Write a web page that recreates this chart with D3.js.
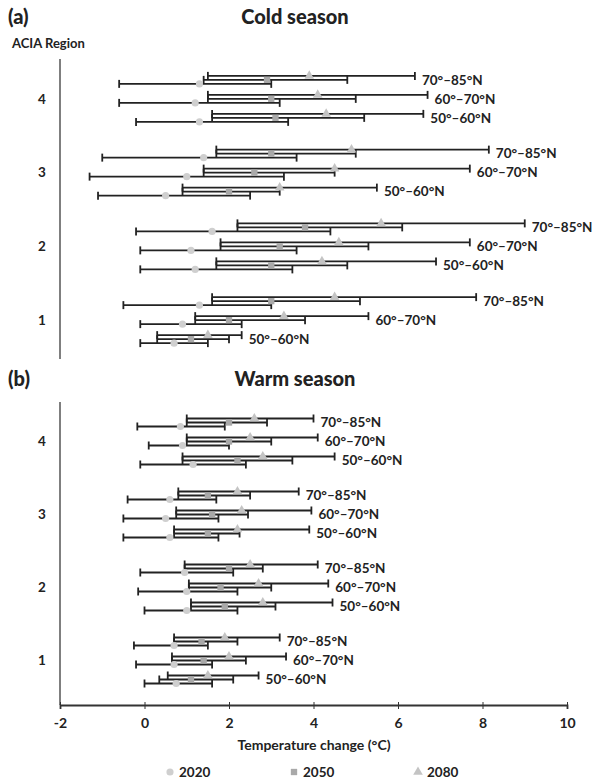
<!DOCTYPE html>
<html lang="en">
<head>
<meta charset="UTF-8">
<title>ACIA projected temperature change</title>
<style>
  body { margin: 0; background: #fff; }
  text { font-family: Lato, "Open Sans", sans-serif; fill: #222; }
</style>
</head>
<body>
<div id="chart"></div>
<script src="https://d3js.org/d3.v7.min.js"></script>
<script>
// categories
var regions = ["4", "3", "2", "1"];
var bands = ["70°–85°N", "60°–70°N", "50°–60°N"];
var years = ["2020", "2050", "2080"];
var xTicks = [-2, 0, 2, 4, 6, 8, 10];

// [min, mean, max] per row, rows ordered region 4 (70-85, 60-70, 50-60) ... region 1
var cold2020 = [[-0.6, 1.3, 3.0], [-0.6, 1.2, 3.2], [-0.2, 1.3, 3.4],
                [-1.0, 1.4, 3.6], [-1.3, 1.0, 3.3], [-1.1, 0.5, 2.5],
                [-0.2, 1.6, 4.4], [-0.1, 1.1, 3.6], [-0.1, 1.2, 3.5],
                [-0.5, 1.3, 3.0], [-0.1, 0.9, 2.3], [-0.1, 0.7, 1.5]];
var cold2050 = [[1.4, 2.9, 4.8], [1.5, 3.0, 5.0], [1.6, 3.1, 5.2],
                [1.7, 3.0, 5.0], [1.4, 2.6, 4.5], [0.9, 2.0, 3.2],
                [2.2, 3.8, 6.1], [1.8, 3.2, 5.3], [1.7, 3.0, 4.8],
                [1.6, 3.0, 5.1], [1.2, 2.0, 3.8], [0.3, 1.1, 2.0]];
var cold2080 = [[1.5, 3.9, 6.4], [1.5, 4.1, 6.7], [1.6, 4.3, 6.6],
                [1.7, 4.9, 8.15], [1.4, 4.5, 7.7], [0.9, 3.2, 5.5],
                [2.2, 5.6, 9.0], [1.8, 4.6, 7.7], [1.7, 4.2, 6.9],
                [1.6, 4.5, 7.85], [1.2, 3.3, 5.3], [0.3, 1.5, 2.3]];

var warm2020 = [[-0.17, 0.85, 1.9], [0.1, 0.9, 2.0], [-0.1, 1.15, 2.4],
                [-0.4, 0.6, 1.7], [-0.5, 0.5, 1.75], [-0.5, 0.6, 1.75],
                [-0.1, 0.95, 2.1], [-0.15, 1.0, 2.2], [0.0, 1.0, 2.2],
                [-0.25, 0.7, 1.5], [-0.2, 0.7, 1.6], [0.0, 0.75, 1.6]];
var warm2050 = [[1.0, 2.0, 2.9], [1.0, 2.0, 3.0], [0.9, 2.2, 3.5],
                [0.8, 1.5, 2.5], [0.75, 1.6, 2.45], [0.7, 1.5, 2.25],
                [0.95, 2.0, 2.8], [1.05, 1.8, 3.0], [1.1, 1.9, 3.1],
                [0.7, 1.35, 2.2], [0.65, 1.4, 2.4], [0.35, 1.1, 2.1]];
var warm2080 = [[1.0, 2.6, 4.0], [1.0, 2.5, 4.1], [0.9, 2.8, 4.5],
                [0.8, 2.2, 3.65], [0.75, 2.3, 3.95], [0.7, 2.2, 3.9],
                [0.95, 2.5, 4.1], [1.05, 2.7, 4.35], [1.1, 2.8, 4.45],
                [0.7, 1.9, 3.2], [0.65, 2.0, 3.35], [0.55, 1.5, 2.7]];

var W = 605, H = 780;
var svg = d3.select("#chart").append("svg").attr("width", W).attr("height", H);

var x = d3.scaleLinear().domain([-2, 10]).range([60, 567]);
var bandOff = d3.scalePoint().domain(bands).range([-19, 19]);
var yearOff = d3.scalePoint().domain(["2080", "2050", "2020"]).range([-4, 4]);

var markFill = {"2020": "#cfcfcf", "2050": "#a9a9a9", "2080": "#c4c4c4"};
var markShape = {"2020": d3.symbolCircle, "2050": d3.symbolSquare, "2080": d3.symbolTriangle};

function rowsOf(s2020, s2050, s2080) {
  var rows = [];
  regions.forEach(function (r, ri) {
    bands.forEach(function (b, bi) {
      var i = ri * 3 + bi;
      rows.push({region: r, band: b, vals: {"2020": s2020[i], "2050": s2050[i], "2080": s2080[i]}});
    });
  });
  return rows;
}

function panel(rows, top, bottom, letter, title, titleY, withAxis) {
  var g = svg.append("g");
  var y = d3.scaleBand().domain(regions).range([top, bottom]);

  g.append("text").attr("x", 8).attr("y", titleY).attr("font-size", 20)
    .attr("font-weight", 900).text(letter);
  g.append("text").attr("x", 295).attr("y", titleY).attr("text-anchor", "middle")
    .attr("font-size", 20).attr("font-weight", 900).text(title);

  // y axis line
  g.append("line").attr("x1", 60).attr("x2", 60)
    .attr("y1", top - 3).attr("y2", withAxis ? bottom + 8 : bottom + 2)
    .attr("stroke", "#555").attr("stroke-width", 1.5);

  g.selectAll(".rlab").data(regions).enter().append("text")
    .attr("x", 42).attr("y", function (d) { return y(d) + y.bandwidth() / 2; })
    .attr("dy", "0.35em").attr("text-anchor", "middle")
    .attr("font-size", 13.5).attr("font-weight", 700).text(function (d) { return d; });

  var bars = [];
  rows.forEach(function (row) {
    var cy = y(row.region) + y.bandwidth() / 2 + bandOff(row.band);
    years.forEach(function (yr) {
      bars.push({yr: yr, v: row.vals[yr], cy: cy + yearOff(yr)});
    });
    row.cy = cy;
  });

  var bg = g.append("g").attr("stroke", "#222").attr("stroke-width", 1.8);
  bg.selectAll(".whisker").data(bars).enter().append("line")
    .attr("x1", function (d) { return x(d.v[0]); })
    .attr("x2", function (d) { return x(d.v[2]); })
    .attr("y1", function (d) { return d.cy; })
    .attr("y2", function (d) { return d.cy; });
  bg.selectAll(".capL").data(bars).enter().append("line")
    .attr("x1", function (d) { return x(d.v[0]); })
    .attr("x2", function (d) { return x(d.v[0]); })
    .attr("y1", function (d) { return d.cy - 4; })
    .attr("y2", function (d) { return d.cy + 4; });
  bg.selectAll(".capR").data(bars).enter().append("line")
    .attr("x1", function (d) { return x(d.v[2]); })
    .attr("x2", function (d) { return x(d.v[2]); })
    .attr("y1", function (d) { return d.cy - 4; })
    .attr("y2", function (d) { return d.cy + 4; });

  g.selectAll(".mark").data(bars).enter().append("path")
    .attr("transform", function (d) { return "translate(" + x(d.v[1]) + "," + d.cy + ")"; })
    .attr("d", function (d) { return d3.symbol().type(markShape[d.yr]).size(40)(); })
    .attr("fill", function (d) { return markFill[d.yr]; });

  g.selectAll(".blab").data(rows).enter().append("text")
    .attr("x", function (d) { return x(d.vals["2080"][2]) + 7; })
    .attr("y", function (d) { return d.cy; })
    .attr("dy", "0.35em").attr("font-size", 13.5).attr("font-weight", 700)
    .text(function (d) { return d.band; });

  if (withAxis) {
    var ax = g.append("g").attr("transform", "translate(0," + (bottom + 8) + ")")
      .call(d3.axisBottom(x).tickValues(xTicks).tickSize(4)
        .tickFormat(function (d) { return String(d); }));
    ax.select(".domain").attr("stroke", "#333").attr("stroke-width", 1.8);
    ax.selectAll(".tick line").attr("stroke", "#333").attr("y1", -3);
    ax.selectAll(".tick text").attr("font-size", 14).attr("font-weight", 700)
      .attr("y", 13).attr("font-family", "Lato, sans-serif").attr("fill", "#222");
  }
  return g;
}

svg.append("text").attr("x", 12).attr("y", 48).attr("font-size", 13)
  .attr("font-weight", 700).text("ACIA Region");

panel(rowsOf(cold2020, cold2050, cold2080), 62, 357, "(a)", "Cold season", 24, false);
panel(rowsOf(warm2020, warm2050, warm2080), 405, 697, "(b)", "Warm season", 386, true);

svg.append("text").attr("x", 314).attr("y", 750).attr("text-anchor", "middle")
  .attr("font-size", 14).attr("font-weight", 700).text("Temperature change (°C)");

// legend
var legend = svg.append("g").selectAll("g").data(years).enter().append("g")
  .attr("transform", function (d, i) { return "translate(" + (170 + i * 124) + ",772)"; });
legend.append("path")
  .attr("d", function (d) { return d3.symbol().type(markShape[d]).size(40)(); })
  .attr("fill", function (d) { return markFill[d]; });
legend.append("text").attr("x", 9).attr("dy", "0.35em").attr("font-size", 13.5)
  .attr("font-weight", 700).text(function (d) { return d; });
</script>
</body>
</html>
